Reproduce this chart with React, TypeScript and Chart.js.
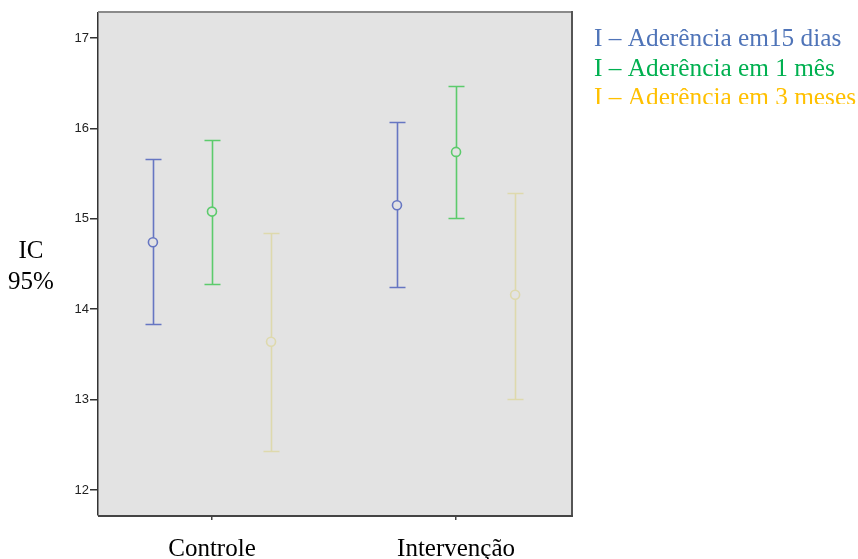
import React, { useEffect, useRef } from "react";
import { Chart, registerables } from "chart.js";

Chart.register(...registerables);

const groups = ["Controle", "Intervenção"];
const seriesNames = ["I – Aderência em15 dias", "I – Aderência em 1 mês", "I – Aderência em 3 meses"];
const legendColors = ["#4f74b8", "#00b050", "#ffc000"];
const markColors = ["#6676c2", "#5ccb6c", "#ded9ad"];

const mean15 = [14.74, 15.15];
const low15 = [13.84, 14.25];
const high15 = [15.66, 16.07];

const mean1m = [15.08, 15.74];
const low1m = [14.28, 15.01];
const high1m = [15.87, 16.47];

const mean3m = [13.64, 14.16];
const low3m = [12.43, 13.01];
const high3m = [14.84, 15.29];

const seriesOffsets = [-0.242, 0, 0.242];
const yTicks = [12, 13, 14, 15, 16, 17];
const yLabel = ["IC", "95%"];

const means = [mean15, mean1m, mean3m];
const lows = [low15, low1m, low3m];
const highs = [high15, high1m, high3m];

const errorBarPlugin = {
  id: "errorBars",
  beforeDraw(chart: any) {
    const { ctx, chartArea } = chart;
    ctx.save();
    ctx.fillStyle = "#e3e3e3";
    ctx.fillRect(chartArea.left, chartArea.top, chartArea.right - chartArea.left, chartArea.bottom - chartArea.top);
    ctx.restore();
  },
  beforeDatasetsDraw(chart: any) {
    const { ctx, scales } = chart;
    const xs = scales.x;
    const ys = scales.y;
    ctx.save();
    chart.data.datasets.forEach((ds: any) => {
      ds.data.forEach((p: any, i: number) => {
        const x = Math.round(xs.getPixelForValue(p.x)) + 0.5;
        const yl = Math.round(ys.getPixelForValue(ds.errLow[i])) + 0.5;
        const yh = Math.round(ys.getPixelForValue(ds.errHigh[i])) + 0.5;
        ctx.strokeStyle = ds.borderColor;
        ctx.lineWidth = 1.6;
        ctx.beginPath();
        ctx.moveTo(x, yl);
        ctx.lineTo(x, yh);
        ctx.moveTo(x - 8, yl);
        ctx.lineTo(x + 8, yl);
        ctx.moveTo(x - 8, yh);
        ctx.lineTo(x + 8, yh);
        ctx.stroke();
      });
    });
    ctx.restore();
  },
  afterDraw(chart: any) {
    const { ctx, chartArea } = chart;
    ctx.save();
    // frame
    ctx.lineWidth = 2;
    ctx.strokeStyle = "#8a8a8a";
    ctx.beginPath();
    ctx.moveTo(chartArea.left, chartArea.top - 1);
    ctx.lineTo(chartArea.right, chartArea.top - 1);
    ctx.stroke();
    ctx.strokeStyle = "#555";
    ctx.beginPath();
    ctx.moveTo(chartArea.right + 1, chartArea.top - 2);
    ctx.lineTo(chartArea.right + 1, chartArea.bottom + 1);
    ctx.stroke();
    ctx.strokeStyle = "#444";
    ctx.beginPath();
    ctx.moveTo(chartArea.left, chartArea.bottom + 1);
    ctx.lineTo(chartArea.right + 2, chartArea.bottom + 1);
    ctx.stroke();

    // legend
    ctx.font = "25.3px 'Liberation Serif'";
    ctx.textAlign = "left";
    ctx.textBaseline = "alphabetic";
    ctx.save();
    ctx.beginPath();
    ctx.rect(580, 0, 278, 104);
    ctx.clip();
    seriesNames.forEach((name, i) => {
      ctx.fillStyle = legendColors[i];
      ctx.fillText(name, 594, 46 + i * 29.5);
    });
    ctx.restore();

    // y label
    ctx.fillStyle = "#000";
    ctx.textAlign = "center";
    ctx.font = "25px 'Liberation Serif'";
    ctx.fillText(yLabel[0], 31, 258);
    ctx.fillText(yLabel[1], 31, 289);
    ctx.restore();
  },
};

export default function App() {
  const ref = useRef<HTMLCanvasElement | null>(null);
  useEffect(() => {
    if (!ref.current) return;
    const datasets = means.map((m, s) => ({
      label: seriesNames[s],
      data: m.map((v, g) => ({ x: g + 1 + seriesOffsets[s], y: v })),
      errLow: lows[s],
      errHigh: highs[s],
      borderColor: markColors[s],
      backgroundColor: "#e3e3e3",
      pointRadius: 4.5,
      pointHoverRadius: 4.5,
      pointBorderWidth: 1.6,
      showLine: false,
    }));
    const chart = new Chart(ref.current, {
      type: "scatter",
      data: { datasets: datasets as any },
      options: {
        animation: false,
        responsive: false,
        devicePixelRatio: 1,
        layout: { padding: { left: 0, right: 287, top: 13, bottom: 0 } },
        plugins: { legend: { display: false }, tooltip: { enabled: false } },
        scales: {
          x: {
            type: "linear",
            min: 0.533,
            max: 2.471,
            afterBuildTicks: (scale: any) => {
              scale.ticks = groups.map((_, i) => ({ value: i + 1 }));
            },
            afterFit: (scale: any) => {
              scale.height = 44;
            },
            ticks: {
              autoSkip: false,
              maxRotation: 0,
              padding: 14,
              color: "#000",
              font: { family: "'Liberation Serif'", size: 25 },
              callback: (v: any) => groups[Math.round(v) - 1] ?? "",
            },
            grid: { drawOnChartArea: false, drawTicks: true, tickLength: 5, color: "#444", lineWidth: 1.5 },
            border: { display: false },
          },
          y: {
            min: 11.723,
            max: 17.277,
            afterBuildTicks: (scale: any) => {
              scale.ticks = yTicks.map((v) => ({ value: v }));
            },
            afterFit: (scale: any) => {
              scale.width = 98;
            },
            ticks: {
              padding: 1,
              color: "#222",
              font: { family: "'Liberation Sans'", size: 13 },
            },
            grid: { drawOnChartArea: false, drawTicks: true, tickLength: 8, color: "#333", lineWidth: 1.5 },
            border: { display: true, color: "#333", width: 1.5 },
          },
        },
      },
      plugins: [errorBarPlugin],
    } as any);
    return () => chart.destroy();
  }, []);
  return (
    <div style={{ position: "fixed", left: 0, top: 0, width: 858, height: 559, background: "#fff" }}>
      <canvas ref={ref} width={858} height={559} style={{ width: 858, height: 559, display: "block" }} />
    </div>
  );
}
